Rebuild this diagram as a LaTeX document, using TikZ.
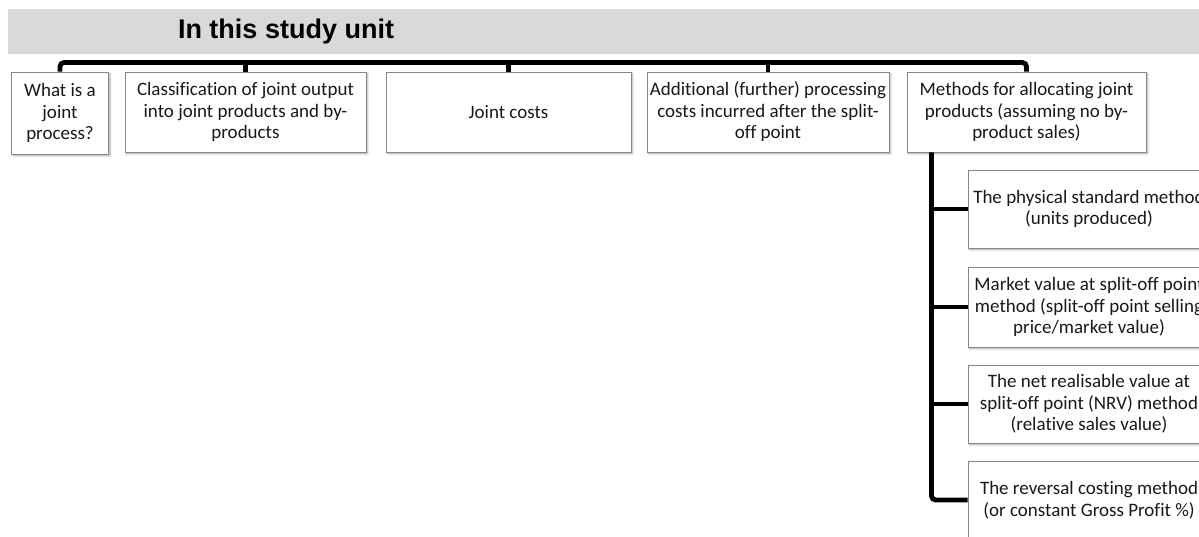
\documentclass[tikz,border=0pt]{standalone}
\usepackage{fontspec}
\setmainfont{Carlito}[Ligatures=NoCommon]
\newfontfamily\headfont{Liberation Sans}
\usepackage{tikz}
\usetikzlibrary{positioning, calc, shadows.blur}
\definecolor{boxgray}{RGB}{135,135,135}
\definecolor{bannergray}{RGB}{217,217,217}

\begin{document}
\begin{tikzpicture}[
  x=1pt, y=-1pt,
  topicnode/.style = {rectangle, draw=boxgray, fill=white, line width=0.9pt,
                  align=center, inner sep=0pt, text=black!90,
                  font=\fontsize{19}{21.5}\selectfont,
                  blur shadow={shadow xshift=1.5pt, shadow yshift=-1.8pt,
                               shadow blur steps=4, shadow opacity=35}},
  methnode/.style  = {topicnode, minimum width=242pt},
  titlenode/.style = {inner sep=0pt, font=\headfont\bfseries\fontsize{27}{30}\selectfont},
  bus/.style       = {line width=4.8pt, black, rounded corners=4pt},
]
\useasboundingbox (0,0) rectangle (1199,537);
\clip (0,0) rectangle (1199,537);

%% Banner
\fill[bannergray] (8,9) rectangle (1215,54);
\node[titlenode] (title) at (286,32) {In this study unit};

%% Topics (top row)
\node[topicnode, minimum width=97pt,  minimum height=82pt] (q1) at (60,113)    {What is a\\joint\\process?};
\node[topicnode, minimum width=241pt, minimum height=80pt] (q2) at (245.5,112) {Classification of joint output\\into joint products and by-\\products};
\node[topicnode, minimum width=245pt, minimum height=80pt] (q3) at (508.5,112) {Joint costs};
\node[topicnode, minimum width=242pt, minimum height=80pt] (q4) at (768,112)   {Additional (further) processing\\costs incurred after the split-\\off point};
\node[topicnode, minimum width=239pt, minimum height=80pt] (q5) at (1026.5,112) {Methods for allocating joint\\products (assuming no by-\\product sales)};

%% Allocation methods (right column)
\node[methnode, minimum height=78pt] (m1) at (1089,209) {The physical standard method\\(units produced)};
\node[methnode, minimum height=80pt] (m2) at (1089,307) {Market value at split-off point\\method (split-off point selling\\price/market value)};
\node[methnode, minimum height=78pt] (m3) at (1089,404) {The net realisable value at\\split-off point (NRV) method\\(relative sales value)};
\node[methnode, minimum height=78pt] (m4) at (1089,500) {The reversal costing method\\(or constant Gross Profit \%)};

%% Connectors
\draw[bus] (q1.north) -- ++(0,-9) -| (q5.north);
\foreach \n in {q2, q3, q4} {
  \draw[bus] (\n.north) -- ++(0,-9);
}

\coordinate (tk) at ($(q5.south west)+(25,0)$);
\draw[bus] (tk) |- (m4.west);
\foreach \n in {m1, m2, m3} {
  \draw[bus] (\n.west) -- (\n.west -| tk);
}

\end{tikzpicture}
\end{document}
